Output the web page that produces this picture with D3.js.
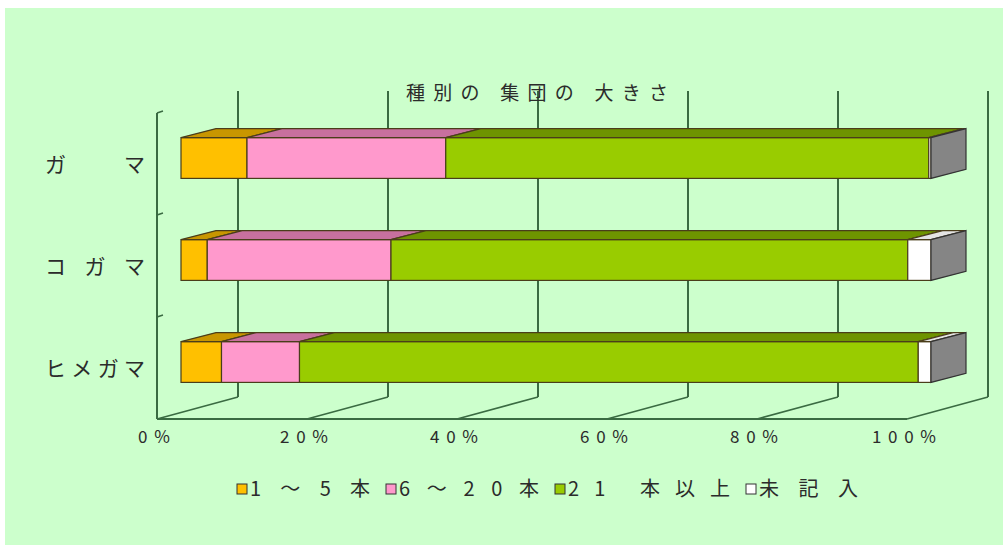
<!DOCTYPE html>
<html>
<head>
<meta charset="utf-8">
<script src="https://cdn.jsdelivr.net/npm/d3@7/dist/d3.min.js"></script>
<style>
  html, body { margin: 0; padding: 0; background: #ffffff; }
  svg { display: block; }
  text { font-family: "Noto Sans CJK JP", "Noto Sans", sans-serif; fill: #2b2b2b; }
</style>
</head>
<body>
<svg id="chart" width="1003" height="545"></svg>
<script>
// ---- data ----
const categories = ["ガマ", "コガマ", "ヒメガマ"];
const categoryLabels = ["ガ　　マ", "コ ガ マ", "ヒメガマ"];
const seriesNames = ["1～5本", "6～20本", "21 本以上", "未記入"];
const size1to5 = [8.8, 3.5, 5.4];
const size6to20 = [26.5, 24.5, 10.4];
const size21plus = [64.4, 68.9, 82.5];
const sizeUnknown = [0.3, 3.1, 1.7];
const xTicks = [0, 20, 40, 60, 80, 100];
const xTickLabels = ["0%", "20%", "40%", "60%", "80%", "100%"];
const title = "種別の 集団の 大きさ";

// ---- styling ----
const frontColors = ["#FFC000", "#FF99CC", "#99CC00", "#FFFFFF"];
const topColors = ["#C89600", "#C8709E", "#6E9400", "#E4E4E4"];
const sideColor = "#858585";
const gridColor = "#3A6B42";

const svg = d3.select("#chart");

// panel background
svg.append("rect").attr("x", 5).attr("y", 8).attr("width", 998).attr("height", 537)
  .attr("fill", "#CCFFCC");

// ---- 3D geometry ----
const floorY = 419, wallTop = 113;
const depth = { dx: 81, dy: -22 };      // front plane -> back wall
const barShift = { dx: 24, dy: -6 };    // front plane -> bar front face
const barDepth = { dx: 35, dy: -9 };    // bar front face -> bar back face

const x = d3.scaleLinear().domain([0, 100]).range([157, 907]);
const y = d3.scaleBand().domain(categories).range([wallTop, floorY])
  .paddingInner(0.6).paddingOuter(0.3);

// back-wall gridlines
svg.append("g").selectAll("line").data(xTicks).join("line")
  .attr("x1", d => x(d) + depth.dx).attr("x2", d => x(d) + depth.dx)
  .attr("y1", wallTop + depth.dy).attr("y2", floorY + depth.dy)
  .attr("stroke", gridColor).attr("stroke-width", 2);

// floor depth lines
svg.append("g").selectAll("line").data(xTicks).join("line")
  .attr("x1", d => x(d)).attr("y1", floorY)
  .attr("x2", d => x(d) + depth.dx).attr("y2", floorY + depth.dy)
  .attr("stroke", gridColor).attr("stroke-width", 1.6);

// floor front edge and left wall edge
svg.append("line").attr("x1", x(0)).attr("x2", x(100)).attr("y1", floorY).attr("y2", floorY)
  .attr("stroke", gridColor).attr("stroke-width", 2);
svg.append("line").attr("x1", x(0)).attr("x2", x(0)).attr("y1", wallTop).attr("y2", floorY)
  .attr("stroke", gridColor).attr("stroke-width", 2);

// category tick marks on the left edge
const step = y.step();
const catBounds = [wallTop, ...categories.slice(1).map(c => y(c) - step * y.paddingInner() / 2)];
svg.append("g").selectAll("line").data(catBounds).join("line")
  .attr("x1", x(0)).attr("y1", d => d)
  .attr("x2", x(0) + 6).attr("y2", d => d - 2)
  .attr("stroke", gridColor).attr("stroke-width", 1.4);

// ---- stacked bars ----
const seriesValues = [size1to5, size6to20, size21plus, sizeUnknown];
const rows = categories.map((c, i) => {
  const r = { cat: c };
  seriesNames.forEach((s, k) => r[s] = seriesValues[k][i]);
  return r;
});
const stacked = d3.stack().keys(seriesNames)(rows);

const bars = svg.append("g");
const outline = "#4a3d1a";
categories.forEach((c, i) => {
  const g = bars.append("g");
  const top = y(c) + barShift.dy;
  const h = y.bandwidth();
  stacked.forEach((layer, k) => {
    const [v0, v1] = layer[i];
    const x0 = x(v0) + barShift.dx, x1 = x(v1) + barShift.dx;
    if (x1 - x0 > 0.01) {
      g.append("rect").attr("x", x0).attr("y", top).attr("width", x1 - x0).attr("height", h)
        .attr("fill", frontColors[k]).attr("stroke", outline).attr("stroke-width", 1.2);
    }
    g.append("path")
      .attr("d", `M${x0},${top}L${x1},${top}L${x1 + barDepth.dx},${top + barDepth.dy}L${x0 + barDepth.dx},${top + barDepth.dy}Z`)
      .attr("fill", topColors[k]).attr("stroke", outline).attr("stroke-width", 1.2);
  });
  // right end face
  const xe = x(100) + barShift.dx;
  g.append("path")
    .attr("d", `M${xe},${top}L${xe + barDepth.dx},${top + barDepth.dy}L${xe + barDepth.dx},${top + h + barDepth.dy}L${xe},${top + h}Z`)
    .attr("fill", sideColor).attr("stroke", "#333333").attr("stroke-width", 1.2);
});

// ---- text ----
svg.append("text").attr("x", 537).attr("y", 93).attr("dy", "0.36em").attr("text-anchor", "middle")
  .attr("font-size", 19).attr("textLength", 262).attr("lengthAdjust", "spacing")
  .text(title);

svg.append("g").selectAll("text").data(categories).join("text")
  .attr("x", 45).attr("y", c => y(c) + y.bandwidth() / 2)
  .attr("dy", "0.36em").attr("font-size", 21)
  .attr("textLength", 100).attr("lengthAdjust", "spacing")
  .text((c, i) => categoryLabels[i]);

svg.append("g").selectAll("text").data(xTicks).join("text")
  .attr("x", d => x(d) - 3).attr("y", 437).attr("dy", "0.36em")
  .attr("text-anchor", "middle").attr("font-size", 17)
  .attr("textLength", (d, i) => xTickLabels[i].length * 16).attr("lengthAdjust", "spacing")
  .text((d, i) => xTickLabels[i]);

// ---- legend ----
const legendTextWidths = [120, 140, 162, 99];
let lx = 237;
const legend = svg.append("g");
seriesNames.forEach((s, k) => {
  legend.append("rect").attr("x", lx).attr("y", 484).attr("width", 10).attr("height", 10)
    .attr("fill", frontColors[k]).attr("stroke", "#333333").attr("stroke-width", 1);
  legend.append("text").attr("x", lx + 13).attr("y", 489).attr("dy", "0.36em")
    .attr("font-size", 20).attr("textLength", legendTextWidths[k]).attr("lengthAdjust", "spacing")
    .text(s);
  lx += 13 + legendTextWidths[k] + 16;
});
</script>
</body>
</html>
